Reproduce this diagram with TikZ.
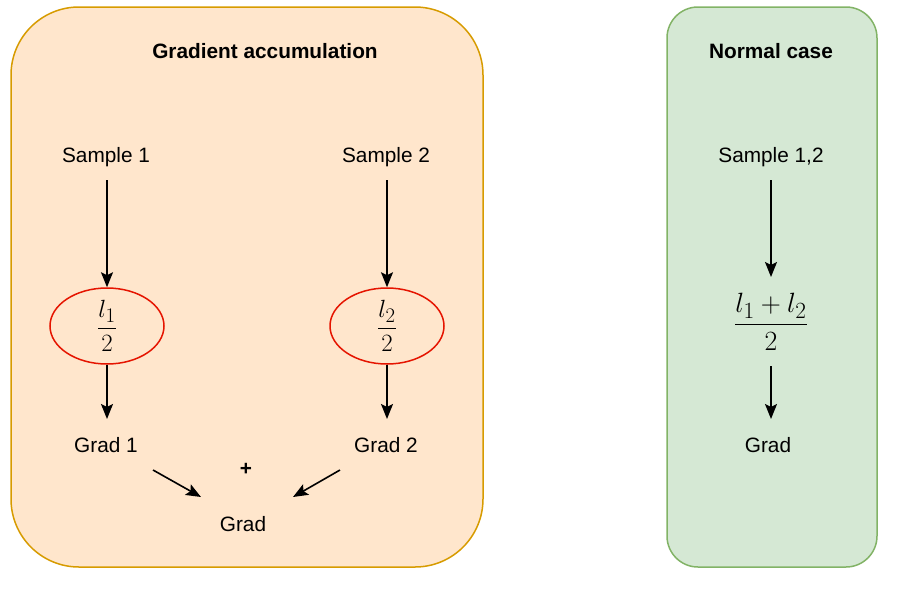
\documentclass[tikz,border=0pt]{standalone}
\usepackage{amsmath}
\usepackage{graphicx}
\usepackage{fontspec}
\setmainfont{Liberation Sans}
\usetikzlibrary{shapes.geometric,arrows.meta}
\definecolor{orfill}{HTML}{FFE6CC}
\definecolor{ordraw}{HTML}{D79B00}
\definecolor{grfill}{HTML}{D5E8D4}
\definecolor{grdraw}{HTML}{82B366}
\definecolor{redline}{HTML}{E51400}
\tikzset{
  lbl/.style={font=\fontsize{20.8}{24}\selectfont, inner sep=0pt},
  ttl/.style={font=\fontsize{20.8}{24}\selectfont\bfseries, inner sep=0pt},
  mth/.style={font=\fontsize{24.88}{30}\selectfont, inner sep=0pt},
  ell/.style={ellipse, draw=redline, line width=1.5pt, minimum width=114pt, minimum height=76pt, inner sep=0pt, font=\fontsize{24.88}{30}\selectfont},
  arr/.style={-{Stealth[length=15pt,width=12pt,inset=3pt]}, line width=1.6pt},
  panel/.style={line width=1.5pt}
}
\begin{document}
\begin{tikzpicture}[x=1pt,y=-1pt]
\useasboundingbox (0,0) rectangle (924,590);
% panels
\draw[panel, fill=orfill, draw=ordraw, rounded corners=68pt] (11,7) rectangle (483,567);
\draw[panel, fill=grfill, draw=grdraw, rounded corners=31pt] (667,7) rectangle (877,567);
% titles
\node[ttl] (t1) at (265,51) {Gradient accumulation};
\node[ttl] (t2) at (771,51) {Normal case};
% left column
\node[lbl] (s1) at (106,157) {Sample 1};
\node[lbl] (s2) at (386,157) {Sample 2};
\node[ell] (e1) at (107,326) {$\dfrac{l_1}{2}$};
\node[ell] (e2) at (387,326) {$\dfrac{l_2}{2}$};
\node[lbl] (g1) at (106,445) {Grad 1};
\node[lbl] (g2) at (386,445) {Grad 2};
\node[lbl] (plus) at (246,469) {\textbf{+}};
\node[lbl] (g) at (243,524) {Grad};
\coordinate (c1s) at (107,180);
\coordinate (c2s) at (387,180);
\coordinate (c1e) at (107,419);
\coordinate (c2e) at (387,419);
\coordinate (a1s) at (153,470);
\coordinate (a1e) at (201,497);
\coordinate (a2s) at (340,470);
\coordinate (a2e) at (293,497);
\draw[arr] (c1s) -- (e1.north);
\draw[arr] (c2s) -- (e2.north);
\draw[arr] (e1.south) -- (c1e);
\draw[arr] (e2.south) -- (c2e);
\draw[arr] (a1s) -- (a1e);
\draw[arr] (a2s) -- (a2e);
% right column
\node[lbl] (s12) at (771,157) {Sample 1,2};
\node[mth] (f) at (771,322) {\scalebox{1.12}{$\dfrac{l_1+l_2}{2}$}};
\node[lbl] (g3) at (768,445) {Grad};
\coordinate (b1s) at (771,180);
\coordinate (b1e) at (771,277);
\coordinate (b2s) at (771,366);
\coordinate (b2e) at (771,419);
\draw[arr] (b1s) -- (b1e);
\draw[arr] (b2s) -- (b2e);
\end{tikzpicture}
\end{document}
